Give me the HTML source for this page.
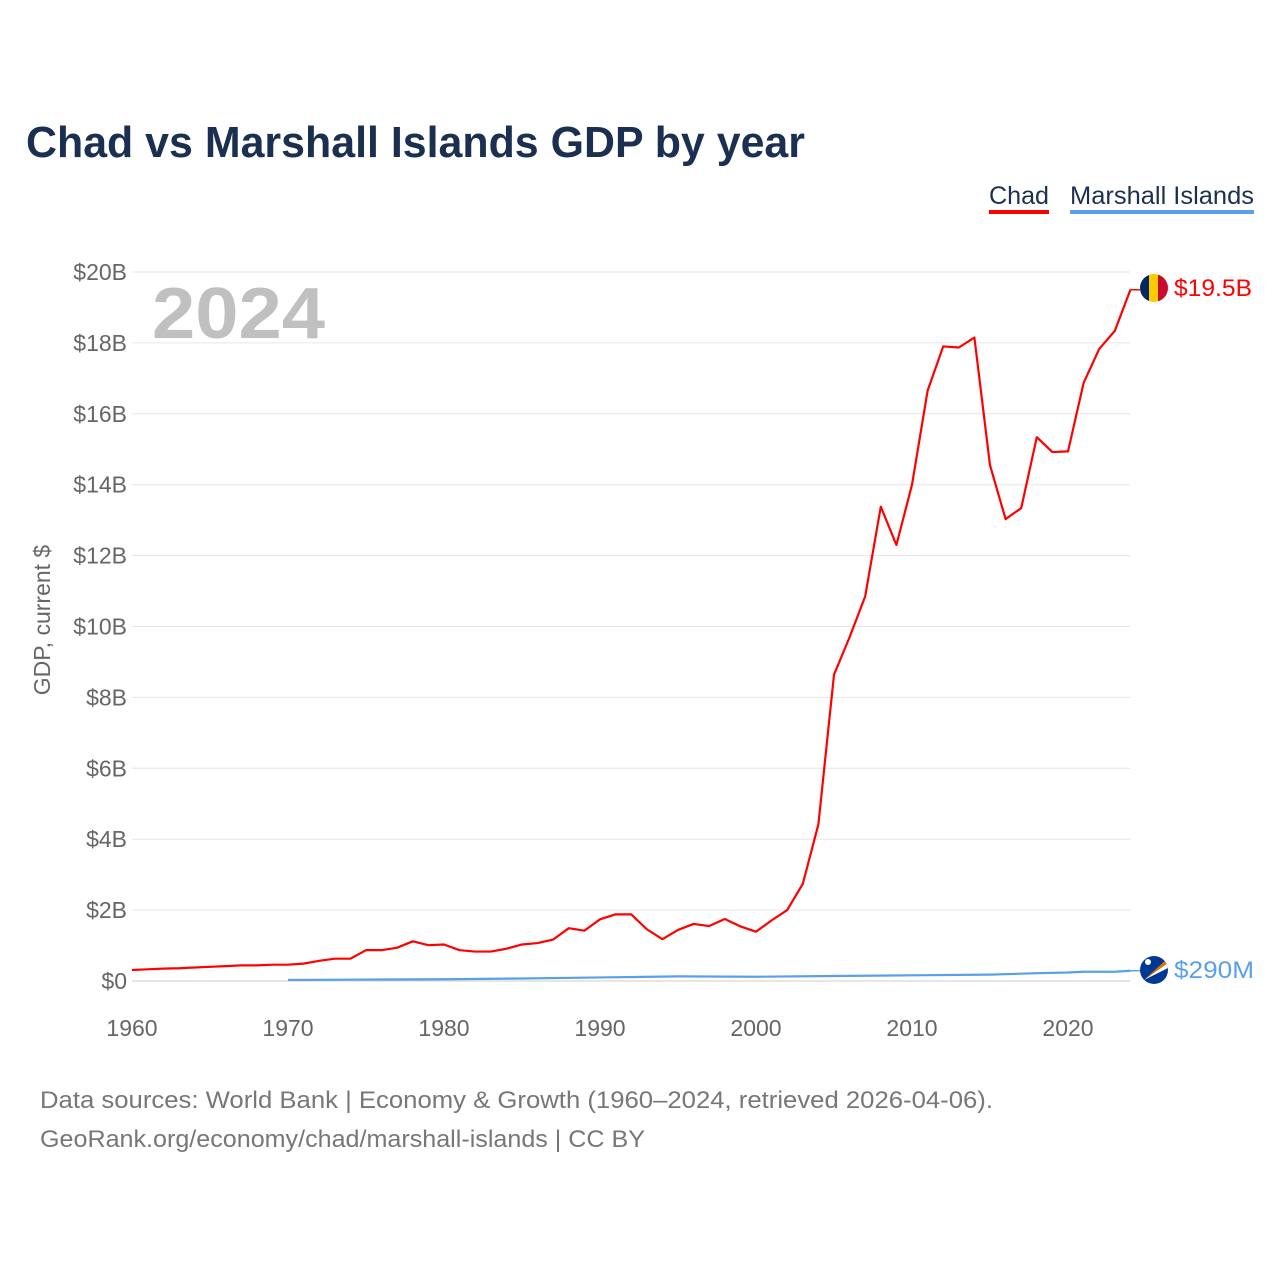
<!DOCTYPE html>
<html><head><meta charset="utf-8"><style>
html,body{margin:0;padding:0;background:#fff;}
body{width:1280px;height:1280px;overflow:hidden;font-family:"Liberation Sans",sans-serif;}
</style></head><body>
<svg width="1280" height="1280" viewBox="0 0 1280 1280" xmlns="http://www.w3.org/2000/svg">
<text x="26" y="157" font-size="44" font-weight="bold" fill="#1b3050" textLength="779" lengthAdjust="spacingAndGlyphs">Chad vs Marshall Islands GDP by year</text>
<g><text x="989" y="204" font-size="25" fill="#1b3050" textLength="60" lengthAdjust="spacingAndGlyphs">Chad</text><rect x="989" y="210" width="60" height="4" fill="#ff0000"/></g>
<g><text x="1070" y="204" font-size="25" fill="#1b3050" textLength="184" lengthAdjust="spacingAndGlyphs">Marshall Islands</text><rect x="1070" y="210" width="184" height="4" fill="#5aa0e8"/></g>
<text x="152" y="338" font-size="72" font-weight="bold" fill="#c0c0c0" textLength="173" lengthAdjust="spacingAndGlyphs">2024</text>
<text transform="translate(50,620) rotate(-90)" text-anchor="middle" font-size="23" fill="#666">GDP, current $</text>
<g id="grid"></g><g id="yt"></g><g id="xt"></g><g id="lines"></g>
<g>
<clipPath id="c1"><circle cx="1154" cy="288" r="14"/></clipPath>
<g clip-path="url(#c1)"><rect x="1140" y="274" width="10" height="28" fill="#002664"/><rect x="1149" y="274" width="10" height="28" fill="#fecb00"/><rect x="1158" y="274" width="10" height="28" fill="#c60c30"/></g></g>
<text x="1174" y="296" font-size="24" fill="#ff0000" textLength="78" lengthAdjust="spacingAndGlyphs">$19.5B</text>
<g>
<clipPath id="c2"><circle cx="1154" cy="970" r="14"/></clipPath>
<g clip-path="url(#c2)"><rect x="1140" y="956" width="28" height="28" fill="#003893"/><polygon points="1144,980 1168,958 1168,963" fill="#dd7500"/><polygon points="1144,980 1168,963 1168,968" fill="#fff"/><circle cx="1148" cy="962" r="3" fill="#fff"/></g></g>
<text x="1174" y="978" font-size="24" fill="#5aa0e8" textLength="80" lengthAdjust="spacingAndGlyphs">$290M</text>
<text x="40" y="1108" font-size="24" fill="#777" textLength="953" lengthAdjust="spacingAndGlyphs">Data sources: World Bank | Economy &amp; Growth (1960–2024, retrieved 2026-04-06).</text>
<text x="40" y="1147" font-size="24" fill="#777" textLength="605" lengthAdjust="spacingAndGlyphs">GeoRank.org/economy/chad/marshall-islands | CC BY</text>
</svg>
<script>
const chadYears=[1960,1961,1962,1963,1964,1965,1966,1967,1968,1969,1970,1971,1972,1973,1974,1975,1976,1977,1978,1979,1980,1981,1982,1983,1984,1985,1986,1987,1988,1989,1990,1991,1992,1993,1994,1995,1996,1997,1998,1999,2000,2001,2002,2003,2004,2005,2006,2007,2008,2009,2010,2011,2012,2013,2014,2015,2016,2017,2018,2019,2020,2021,2022,2023,2024];
const chadGDP=[0.31,0.33,0.35,0.36,0.38,0.40,0.42,0.44,0.44,0.46,0.46,0.49,0.57,0.63,0.63,0.87,0.87,0.94,1.12,1.01,1.03,0.87,0.83,0.83,0.91,1.03,1.07,1.17,1.49,1.42,1.74,1.88,1.88,1.46,1.18,1.44,1.61,1.55,1.75,1.54,1.39,1.71,2.0,2.74,4.42,8.64,9.7,10.85,13.38,12.3,14.0,16.65,17.9,17.87,18.15,14.55,13.03,13.34,15.34,14.92,14.94,16.87,17.83,18.34,19.5];
const mhlYears=[1970,1975,1980,1985,1990,1995,2000,2005,2010,2015,2018,2020,2021,2022,2023,2024];
const mhlGDP=[0.03,0.04,0.05,0.07,0.1,0.13,0.12,0.14,0.16,0.18,0.22,0.24,0.26,0.26,0.26,0.29];
const yTicks=[0,2,4,6,8,10,12,14,16,18,20];
const yTickLabels=["$0","$2B","$4B","$6B","$8B","$10B","$12B","$14B","$16B","$18B","$20B"];
const xTicks=[1960,1970,1980,1990,2000,2010,2020];
const NS="http://www.w3.org/2000/svg";
const xS=v=>132+(v-1960)*(1068-132)/60;
const yS=v=>981-v*(981-272)/20;
function mk(t,a,p){const e=document.createElementNS(NS,t);for(const k in a)e.setAttribute(k,a[k]);document.getElementById(p).appendChild(e);return e;}
yTicks.forEach((v,i)=>{
 const l=mk('line',{x1:132,x2:1130,y1:yS(v),y2:yS(v),stroke:i==0?'#ccc':'#e6e6e6','stroke-width':1},'grid');
 
 
 const t=mk('text',{x:127,y:yS(v)+8,'text-anchor':'end','font-size':23,fill:'#666'},'yt');
 t.textContent=yTickLabels[i];
 
 
});
xTicks.forEach(v=>{
 const t=mk('text',{x:xS(v),y:1036,'text-anchor':'middle','font-size':23,fill:'#666'},'xt');
 t.textContent=v;
 
 
});
function line(xs,ys,c,name){
 const p=mk('polyline',{points:xs.map((x,i)=>xS(x)+','+yS(ys[i])).join(' '),fill:'none',stroke:c,'stroke-width':2.2,'stroke-linejoin':'round'},'lines');
 
 
 const last=ys[ys.length-1];
 const c2=mk('line',{x1:xS(xs[xs.length-1]),x2:1140,y1:yS(last),y2:yS(last),stroke:c,'stroke-width':1.5},'lines');
 
 
}
line(mhlYears,mhlGDP,'#5aa0e8','marshall-islands-line');
line(chadYears,chadGDP,'#ff0000','chad-line');
</script>
</body></html>
